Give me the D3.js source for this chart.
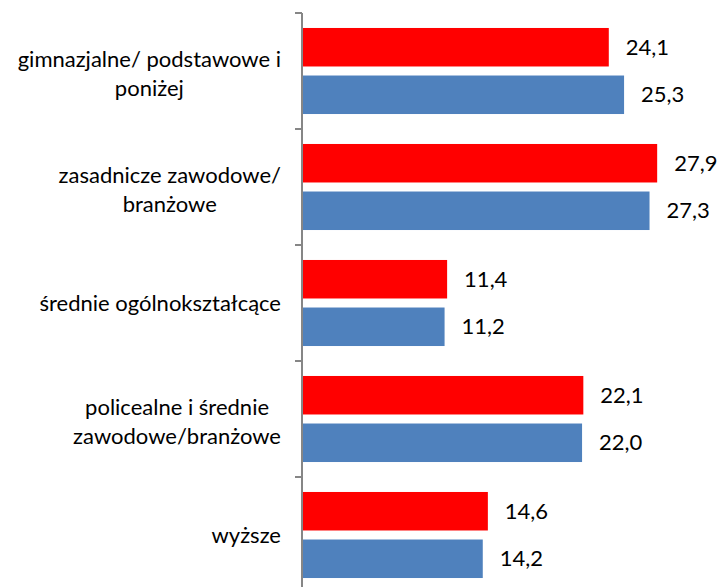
<!DOCTYPE html>
<html>
<head>
<meta charset="utf-8">
<script src="https://cdn.jsdelivr.net/npm/d3@7"></script>
<style>
  body { margin: 0; background: #fff; }
  text { font-family: Lato, "Open Sans", sans-serif; fill: #000; }
</style>
</head>
<body>
<div id="chart"></div>
<script>
var categories = [
  ["gimnazjalne/ podstawowe i", "poniżej"],
  ["zasadnicze zawodowe/", "branżowe"],
  ["średnie ogólnokształcące"],
  ["policealne i średnie", "zawodowe/branżowe"],
  ["wyższe"]
];
var seriesNames = ["seria1", "seria2"];
var redValues = [24.1, 27.9, 11.4, 22.1, 14.6];
var blueValues = [25.3, 27.3, 11.2, 22.0, 14.2];
var colors = ["#ff0000", "#4f81bd"];

var w = 723, h = 587;
var axisX = 302;
var fontSize = 22;

var pl = d3.formatLocale({ decimal: ",", thousands: " ", grouping: [3], currency: ["", " zł"] });
var fmt = pl.format(".1f");

var svg = d3.select("#chart").append("svg")
  .attr("width", w)
  .attr("height", h);

var x = d3.scaleLinear().domain([0, 30]).range([axisX, axisX + 30 * 12.73]);
var y = d3.scaleBand().domain(d3.range(categories.length)).range([13, 593]);
var ySub = d3.scaleBand().domain(seriesNames).range([0, y.bandwidth()])
  .paddingInner(0.19).paddingOuter(0.315);

var rows = categories.map((c, i) => ({
  i: i,
  vals: [
    { s: seriesNames[0], v: redValues[i], c: colors[0] },
    { s: seriesNames[1], v: blueValues[i], c: colors[1] }
  ]
}));

var groups = svg.append("g").selectAll(".grp")
  .data(rows)
  .enter().append("g")
  .attr("class", "grp")
  .attr("transform", d => "translate(0," + y(d.i) + ")");

groups.selectAll("rect")
  .data(d => d.vals)
  .enter().append("rect")
  .attr("x", x(0))
  .attr("y", d => ySub(d.s))
  .attr("width", d => x(d.v) - x(0))
  .attr("height", ySub.bandwidth())
  .attr("fill", d => d.c);

groups.selectAll(".val")
  .data(d => d.vals)
  .enter().append("text")
  .attr("class", "val")
  .attr("x", d => x(d.v) + 17)
  .attr("y", d => ySub(d.s) + ySub.bandwidth() / 2)
  .attr("dy", "0.35em")
  .style("font-size", fontSize + "px")
  .text(d => fmt(d.v));

// axis line + ticks at band edges
var axis = svg.append("g");
axis.append("line")
  .attr("x1", axisX).attr("x2", axisX)
  .attr("y1", 13).attr("y2", h)
  .attr("stroke", "#868686").attr("stroke-width", 2);
axis.selectAll(".tick")
  .data(d3.range(categories.length + 1))
  .enter().append("line")
  .attr("x1", axisX - 7).attr("x2", axisX)
  .attr("y1", d => 13 + d * y.step())
  .attr("y2", d => 13 + d * y.step())
  .attr("stroke", "#868686").attr("stroke-width", 2);

// category labels, centered block, right edge near the axis
var lineH = 29;
categories.forEach((lines, i) => {
  var g = svg.append("g");
  var cy = y(i) + y.bandwidth() / 2 + (lines.length > 1 ? 3 : 0);
  var ts = lines.map((t, j) => g.append("text")
    .style("font-size", fontSize + "px")
    .attr("text-anchor", "middle")
    .attr("y", cy + (j - (lines.length - 1) / 2) * lineH)
    .attr("dy", "0.35em")
    .text(t));
  var maxW = d3.max(ts, t => t.node().getComputedTextLength());
  ts.forEach(t => t.attr("x", 281 - maxW / 2));
});
</script>
</body>
</html>
